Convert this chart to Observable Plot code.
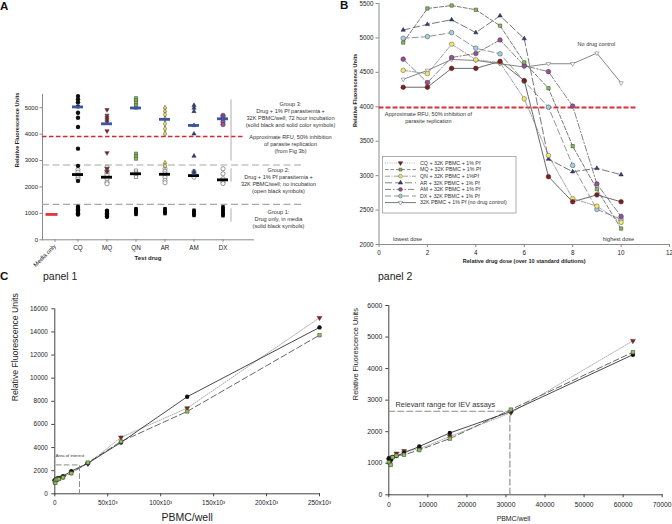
<!DOCTYPE html>
<html><head><meta charset="utf-8">
<script src="https://cdn.jsdelivr.net/npm/d3@7"></script>
<script src="https://cdn.jsdelivr.net/npm/@observablehq/plot@0.6"></script>
<style>
body{margin:0;background:#fff;font-family:"Liberation Sans",Arial,Helvetica,sans-serif}
#fig{position:relative;width:672px;height:524px;overflow:hidden;background:#fff}
.p{position:absolute}
.p svg{display:block;overflow:visible}
.lab{position:absolute;font-weight:bold;font-size:11.5px;line-height:1;color:#111}
.pn{position:absolute;font-size:10.5px;line-height:1;color:#222}
</style></head><body>
<div id="fig">
  <div id="pa" class="p" style="left:0;top:0;width:340px;height:268px"></div>
  <div id="pb" class="p" style="left:340px;top:0;width:332px;height:270px"></div>
  <div id="legB" class="p" style="left:382px;top:156px;width:136px;height:58px"></div>
  <div id="pc1" class="p" style="left:0;top:300px;width:340px;height:224px"></div>
  <div id="pc2" class="p" style="left:340px;top:300px;width:332px;height:224px"></div>
  <div class="lab" style="left:0px;top:0.5px">A</div>
  <div class="lab" style="left:340px;top:0px">B</div>
  <div class="lab" style="left:0px;top:271px">C</div>
  <div class="pn" style="left:43px;top:270.5px">panel 1</div>
  <div class="pn" style="left:378px;top:271px">panel 2</div>
</div>
<script>
// ================= DATA =================
// Panel A
const catsA = ["Media only", "CQ", "MQ", "QN", "AR", "AM", "DX"];
const drugsA = ["CQ", "MQ", "QN", "AR", "AM", "DX"];
const mediaOnly = [960];
const group1 = {CQ:[1250,1200,1150,1100,1050,1000,960], MQ:[1100,1050,1000,950,900,870], QN:[1180,1140,1100,1050,1000,960], AR:[1180,1130,1080,1030,990], AM:[1120,1080,1040,1000,960,920], DX:[1250,1200,1150,1100,1050,1000,950,910]};
const group2 = {CQ:[2650,2560,2450,2370,2300], MQ:[2750,2620,2540,2460,2310,2180,2120], QN:[2620,2540,2460,2380], AR:[2690,2590,2500,2370,2250,2160], AM:[2590,2500,2440,2370], DX:[2690,2500,2310,2180,2130]};
const group3 = {CQ:[5440,5320,5210,5050,4810,4620,4270,3450,2800,2230], MQ:[4920,4710,4620,4540,4460,4120,3290,2700,2580], QN:[5360,5280,5190,5090,5000,3260,3160,3070], AR:[4990,4860,4740,4580,4390,4200,4010,2900,2800], AM:[5090,4990,4860,4330,4010,3170,2590,2500], DX:[4710,4650,4580,4460,4360]};
const group2Mean = {CQ:2470, MQ:2370, QN:2500, AR:2480, AM:2430, DX:2270};
const group3Mean = {CQ:5030, MQ:4390, QN:4990, AR:4560, AM:4330, DX:4580};
const inhibitionA = [3910];
const groupCutsA = [2830, 1340];
const bracketsA = [{y1:5300, y2:2980}, {y1:2690, y2:2180}, {y1:1175, y2:665}];

// Panel B
const dose = [1,2,3,4,5,6,7,8,9,10];
const bCQ = [4284,4284,4558,4558,4659,4380,2985,2620,2721,2620];
const bMQ = [4933,5428,5471,5409,5178,4644,4269,3428,2803,2231];
const bQN = [4529,4481,4909,4683,4640,4115,3293,2668,2557,2322];
const bAR = [5115,5197,5264,5077,5322,4990,3240,3057,3106,3014];
const bAM = [4692,4351,4716,4774,4971,4596,4510,4010,2880,2408];
const bDX = [4995,5019,5077,4851,4769,4370,3995,3149,2510,2365];
const bCtrl = [4399,4529,4687,4673,4625,4577,4625,4625,4779,4346];
const inhibitionB = [3990];
const legendB = ["CQ + 32K PBMC + 1% Pf","MQ + 32K PBMC + 1% Pf","QN + 32K PBMC + 1%Pf","AR + 32K PBMC +  1% Pf","AM + 32K PBMC +  1% Pf","DX + 32K PBMC + 1% Pf","32K PBMC + 1% Pf (no drug control)"];

// Panel C
const pbmc = [0,488,977,1953,3906,7812,15625,31250,62500,125000,250000];
const rfuBlack = [1160,1120,1200,1230,1330,1530,1960,2640,4440,8390,14390];
const rfuRed = [1100,1060,1190,1310,1390,1450,1850,2600,4880,7410,15220];
const rfuGreen = [1030,950,1190,1240,1270,1420,1780,2700,4520,7120,13720];
const areaOfInterest = [[1300,2500],[23300,2500],[23300,0]];
const relevantRange = [[0,2650],[31000,2650],[31000,0]];

// ================= HELPERS =================
const FONT = "Liberation Sans, Arial, Helvetica, sans-serif";
const plain = d => String(d);
const triDown = {
  draw(ctx, size) {
    const s = Math.sqrt(size / (Math.sqrt(3) / 4));
    const h = s * Math.sqrt(3) / 2;
    ctx.moveTo(0, h * 2 / 3);
    ctx.lineTo(-s / 2, -h / 3);
    ctx.lineTo(s / 2, -h / 3);
    ctx.closePath();
  }
};
const st = (fs) => ({fontFamily: FONT, fontSize: fs + "px", color: "#222", background: "none", overflow: "visible"});
const txt = (s, o) => Plot.text([s], {text: d => d, ...o});

// ================= PANEL A =================
const symA = {CQ:"circle", MQ:triDown, QN:"square", AR:"diamond", AM:"triangle", DX:"circle"};
const rA = {CQ:2.2, MQ:1.6, QN:1.8, AR:1.7, AM:1.6, DX:2.2};
const colA = {CQ:"#111111", MQ:"#8e1f2a", QN:"#87c050", AR:"#f2e35e", AM:"#2e3a8e", DX:"#a0509e"};
const sym2A = {CQ:"circle", MQ:"circle", QN:"square", AR:"circle", AM:"circle", DX:"circle"};

const marksA = [
  Plot.frame({anchor: "left", stroke: "#8a8a8a"}),
  Plot.frame({anchor: "bottom", stroke: "#8a8a8a"}),
  Plot.axisY({ticks: [0,1000,2000,3000,4000,5000], tickSize: 2.5, tickPadding: 2, label: null, stroke: "#8a8a8a", tickFormat: plain}),
  Plot.axisX(drugsA, {tickSize: 2.5, tickPadding: 3, label: null, stroke: "#8a8a8a", fontSize: 6.3}),
  Plot.axisX(["Media only"], {tickSize: 2.5, tickPadding: 3, tickRotate: -45, label: null, stroke: "#8a8a8a", dx: 6}),
  Plot.ruleY(groupCutsA, {stroke: "#a8a8a8", strokeWidth: 1.1, strokeDasharray: "7,3.5", insetRight: -49}),
  Plot.ruleY(inhibitionA, {stroke: "#d8262f", strokeWidth: 1.7, strokeDasharray: "4.5,2.5", insetRight: 8}),
  Plot.ruleX(bracketsA, {x: () => "DX", y1: "y1", y2: "y2", dx: 8, stroke: "#9a9a9a", strokeWidth: 0.8})
];
for (const d of drugsA) {
  marksA.push(Plot.dot(group1[d], {x: () => d, y: v => v, r: d === "CQ" || d === "MQ" ? 2.2 : 1.9, fill: "#000", symbol: d === "CQ" || d === "MQ" ? "circle" : "square"}));
}
for (const d of drugsA) {
  marksA.push(Plot.dot(group2[d], {x: () => d, y: v => v, r: sym2A[d] === "square" ? 1.8 : 2.1, fill: "white", stroke: "#555", strokeWidth: 0.6, symbol: sym2A[d]}));
}
marksA.push(Plot.tickY(drugsA, {x: d => d, y: d => group2Mean[d], stroke: "#000", strokeWidth: 2.8, insetLeft: 9, insetRight: 9}));
for (const d of drugsA) {
  marksA.push(Plot.dot(group3[d], {x: () => d, y: v => v, r: rA[d], fill: colA[d], stroke: d === "CQ" ? "none" : "#333", strokeWidth: 0.5, symbol: symA[d]}));
}
marksA.push(
  Plot.tickY(drugsA, {x: d => d, y: d => group3Mean[d], stroke: "#3b55a5", strokeWidth: 2.8, insetLeft: 9, insetRight: 9}),
  Plot.tickY(mediaOnly, {x: () => "Media only", y: v => v, stroke: "#e5333a", strokeWidth: 2.8, insetLeft: 8.5, insetRight: 8.5, dx: 3}),
  txt("Relative Fluorescence Units", {frameAnchor: "left", rotate: -90, dx: -25, fontWeight: "bold", fontSize: 5.6}),
  txt("Test drug", {frameAnchor: "bottom", dy: 19.7, fontWeight: "bold", fontSize: 6}),
  txt("Group 3:\nDrug + 1% Pf parasitemia +\n32K PBMC/well; 72 hour incubation\n(solid black and solid color symbols)", {y: () => 4740, frameAnchor: "right", dx: 37, textAnchor: "middle", fontSize: 5.6, lineHeight: 1.25, fill: "#333"}),
  txt("Approximate RFU, 50% inhibition\nof parasite replication\n(from Fig 3b)", {y: () => 3630, frameAnchor: "right", dx: 37, textAnchor: "middle", fontSize: 5.6, lineHeight: 1.2, fill: "#333"}),
  txt("Group 2:\nDrug + 1% Pf parasitemia +\n32K PBMC/well; no incubation\n(open black symbols)", {y: () => 2265, frameAnchor: "right", dx: 25, textAnchor: "middle", fontSize: 5.6, lineHeight: 1.25, fill: "#333"}),
  txt("Group 1:\nDrug only, in media\n(solid black symbols)", {y: () => 780, frameAnchor: "right", dx: 25, textAnchor: "middle", fontSize: 5.6, lineHeight: 1.25, fill: "#333"})
);

document.getElementById("pa").append(Plot.plot({
  width: 340, height: 268,
  marginLeft: 42, marginRight: 87, marginTop: 94, marginBottom: 28.7,
  style: st(6),
  x: {type: "band", domain: catsA, range: [32.35, 237.65], padding: 0},
  y: {domain: [0, 5500]},
  marks: marksA
}));

// ================= PANEL B =================
const seriesB = [
  {label: legendB[0], v: bCQ, stroke: "#444", dash: null, fill: "#8b1a1a", sym: "circle", lstroke: "#aaa", ldash: "1,1.2", lsym: triDown, mstroke: "#222"},
  {label: legendB[1], v: bMQ, stroke: "#555", dash: "4,2", fill: "#87c050", sym: "square", lstroke: "#666", ldash: "3.5,2", lsym: "square", mstroke: "#333"},
  {label: legendB[2], v: bQN, stroke: "#8a8a8a", dash: "5,1.5,1,1.5", fill: "#f3e866", sym: "circle", lstroke: "#888", ldash: "5,1.5,1,1.5", lsym: "circle", mstroke: "#555"},
  {label: legendB[3], v: bAR, stroke: "#555", dash: "7,3", fill: "#2e3a8e", sym: "triangle", lstroke: "#666", ldash: "7,3", lsym: "triangle", mstroke: "#222"},
  {label: legendB[4], v: bAM, stroke: "#666", dash: "6,2,1.5,2", fill: "#9b4f9a", sym: "circle", lstroke: "#666", ldash: "6,2,1.5,2", lsym: "circle", mstroke: "#333"},
  {label: legendB[5], v: bDX, stroke: "#777", dash: "6,3", fill: "#9fd3e3", sym: "circle", lstroke: "#777", ldash: "6,3", lsym: "circle", mstroke: "#444"},
  {label: legendB[6], v: bCtrl, stroke: "#666", dash: null, fill: "#fff", sym: triDown, lstroke: "#555", ldash: null, lsym: triDown, mstroke: "#666"}
];
const rB = s => s === "circle" ? 2.3 : s === "square" ? 1.9 : 1.6;
const marksB = [
  Plot.frame({anchor: "left", stroke: "#8a8a8a"}),
  Plot.frame({anchor: "bottom", stroke: "#8a8a8a"}),
  Plot.axisY({ticks: d3.range(2000, 5501, 500), tickSize: 3, tickPadding: 2.5, label: null, stroke: "#8a8a8a", tickFormat: plain}),
  Plot.axisX({ticks: d3.range(0, 13, 2), tickSize: 3, tickPadding: 3, label: null, stroke: "#8a8a8a", tickFormat: plain}),
  Plot.ruleY(inhibitionB, {x1: 0, x2: 10.65, stroke: "#d8323a", strokeWidth: 2, strokeDasharray: "5,2"})
];
for (const s of seriesB) {
  marksB.push(Plot.line(dose, {x: d => d, y: (d, i) => s.v[i], stroke: s.stroke, strokeWidth: 0.8, strokeDasharray: s.dash || undefined}));
}
for (const s of [...seriesB].reverse()) {
  marksB.push(Plot.dot(dose, {x: d => d, y: (d, i) => s.v[i], r: rB(s.sym), fill: s.fill, stroke: s.mstroke, strokeWidth: 0.5, symbol: s.sym}));
}
marksB.push(
  txt("Relative Fluorescence Units", {frameAnchor: "left", rotate: -90, dx: -23.5, dy: 3, fontWeight: "bold", fontSize: 5.5}),
  txt("Relative drug dose (over 10 standard dilutions)", {frameAnchor: "bottom", dy: 18, fontWeight: "bold", fontSize: 5.5}),
  txt("No drug control", {x: () => 8.98, y: () => 4913, fontSize: 5.5, fill: "#333"}),
  txt("Approximate RFU, 50% inhibition of\nparasite replication", {x: () => 2.04, y: () => 3850, fontSize: 5.5, lineHeight: 1.25, fill: "#333"}),
  txt("lowest dose", {x: () => 1.18, y: () => 2072, fontSize: 5.5, fill: "#333"}),
  txt("highest dose", {x: () => 9.89, y: () => 2072, fontSize: 5.5, fill: "#333"})
);
document.getElementById("pb").append(Plot.plot({
  width: 332, height: 270,
  marginLeft: 38.5, marginRight: 3, marginTop: 3, marginBottom: 26,
  style: st(6.3),
  x: {domain: [0, 12]},
  y: {domain: [2000, 5500]},
  marks: marksB
}));

// Legend for panel B
(function () {
  const symType = s => s === "circle" ? d3.symbolCircle : s === "square" ? d3.symbolSquare : s === "triangle" ? d3.symbolTriangle : s;
  const svg = d3.select("#legB").append("svg").attr("width", 136).attr("height", 58).style("font-family", FONT);
  svg.append("rect").attr("x", 0.5).attr("y", 0.5).attr("width", 133.5).attr("height", 56.5).attr("fill", "#fff").attr("stroke", "#999").attr("stroke-width", 0.8);
  seriesB.forEach((s, i) => {
    const y = 7 + i * 6.6;
    const ln = svg.append("line").attr("x1", 3).attr("x2", 34).attr("y1", y).attr("y2", y).attr("stroke", s.lstroke).attr("stroke-width", 0.8);
    if (s.ldash) ln.attr("stroke-dasharray", s.ldash);
    const area = s.lsym === "circle" ? 11 : 8;
    svg.append("path").attr("d", d3.symbol(symType(s.lsym), area)()).attr("transform", `translate(18.5,${y})`)
      .attr("fill", s.fill).attr("stroke", s.mstroke).attr("stroke-width", 0.5);
    svg.append("text").attr("x", 38).attr("y", y).attr("dy", "0.35em").attr("font-size", 5.3).attr("fill", "#333").text(s.label);
  });
})();

// ================= PANEL C =================
function marksC(xmax, lab) {
  const rows = pbmc.map((x, i) => ({x, k: rfuBlack[i], r: rfuRed[i], g: rfuGreen[i]})).filter(d => d.x <= xmax);
  return [
    Plot.frame({anchor: "left", stroke: "#444"}),
    Plot.frame({anchor: "bottom", stroke: "#444"}),
    Plot.line(rows, {x: "x", y: "r", stroke: "#9a9a9a", strokeWidth: 0.8, strokeDasharray: "1.2,1.2"}),
    Plot.line(rows, {x: "x", y: "g", stroke: "#555", strokeWidth: 0.9, strokeDasharray: "6,3"}),
    Plot.line(rows, {x: "x", y: "k", stroke: "#333", strokeWidth: 0.9}),
    Plot.dot(rows, {x: "x", y: "r", r: 1.8, fill: "#9a1b1e", stroke: "#333", strokeWidth: 0.5, symbol: triDown}),
    Plot.dot(rows, {x: "x", y: "k", r: 2.2, fill: "#111"}),
    Plot.dot(rows, {x: "x", y: "g", r: 2.0, fill: "#8dc45a", stroke: "#333", strokeWidth: 0.5, symbol: "square"}),
    ...lab
  ];
}
document.getElementById("pc1").append(Plot.plot({
  width: 340, height: 224,
  marginLeft: 54.3, marginRight: 21, marginTop: 8.3, marginBottom: 30.7,
  style: st(6.4),
  x: {domain: [0, 250000]},
  y: {domain: [0, 16000]},
  marks: marksC(250000, [
    Plot.axisY({ticks: d3.range(0, 16001, 2000), tickSize: 3, tickPadding: 4, label: null, stroke: "#444", tickFormat: plain}),
    Plot.axisX({ticks: d3.range(0, 250001, 50000), tickSize: 3, tickPadding: 4, label: null, stroke: "#444", tickFormat: d => d === 0 ? "0" : `${d / 1000}x10³`}),
    Plot.line(areaOfInterest, {x: d => d[0], y: d => d[1], stroke: "#8a8a8a", strokeWidth: 1, strokeDasharray: "5,3"}),
    txt("Area of interest", {x: () => 900, y: () => 3330, textAnchor: "start", fontSize: 4.2, fill: "#333"}),
    txt("Relative Fluorescence Units", {frameAnchor: "left", rotate: -90, dx: -39.3, fontSize: 8.7}),
    txt("PBMC/well", {frameAnchor: "bottom", dy: 27.4, fontSize: 10.5})
  ])
}));
document.getElementById("pc2").append(Plot.plot({
  width: 332, height: 224,
  marginLeft: 48.3, marginRight: 10.3, marginTop: 5, marginBottom: 29.7,
  style: st(6.8),
  x: {domain: [0, 70000]},
  y: {domain: [0, 6000]},
  marks: marksC(70000, [
    Plot.axisY({ticks: d3.range(0, 6001, 1000), tickSize: 3, tickPadding: 3.5, label: null, stroke: "#444", tickFormat: plain}),
    Plot.axisX({ticks: d3.range(0, 70001, 10000), tickSize: 3, tickPadding: 4, label: null, stroke: "#444", tickFormat: plain}),
    Plot.line(relevantRange, {x: d => d[0], y: d => d[1], stroke: "#8a8a8a", strokeWidth: 1.1, strokeDasharray: "6,3"}),
    txt("Relevant range for IEV assays", {x: () => 1700, y: () => 2870, textAnchor: "start", fontSize: 7.4, fill: "#333"}),
    txt("Relative Fluorescence Units", {frameAnchor: "left", rotate: -90, dx: -33.3, fontSize: 7.4}),
    txt("PBMC/well", {frameAnchor: "bottom", dy: 25.7, dx: -12, fontSize: 6.9})
  ])
}));
</script>
</body></html>
